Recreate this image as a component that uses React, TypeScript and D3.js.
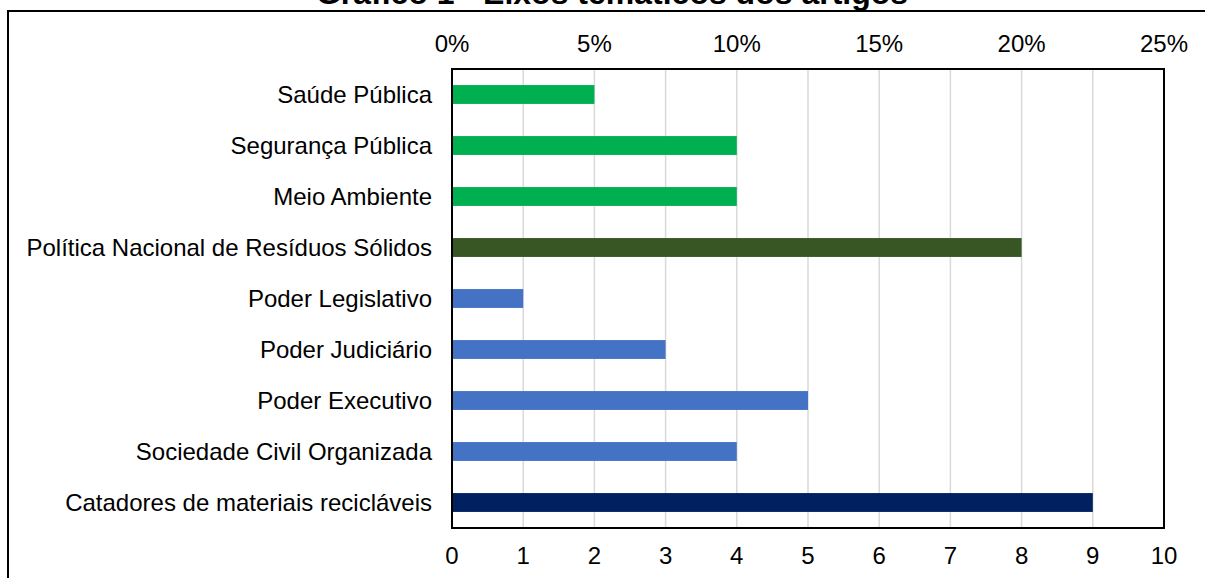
import React from "react";
import * as d3 from "d3";

const categories = [
  "Saúde Pública",
  "Segurança Pública",
  "Meio Ambiente",
  "Política Nacional de Resíduos Sólidos",
  "Poder Legislativo",
  "Poder Judiciário",
  "Poder Executivo",
  "Sociedade Civil Organizada",
  "Catadores de materiais recicláveis",
];
const values = [2, 4, 4, 8, 1, 3, 5, 4, 9];
const barColors = [
  "#00B050", "#00B050", "#00B050",
  "#375623",
  "#4472C4", "#4472C4", "#4472C4", "#4472C4",
  "#002060",
];
const bottomTicks = [0, 1, 2, 3, 4, 5, 6, 7, 8, 9, 10];
const topTicks = [0, 0.05, 0.1, 0.15, 0.2, 0.25];
const title = "Gráfico 1 - Eixos temáticos dos artigos";

const W = 1205;
const H = 578;
const plot = { left: 452, right: 1164, top: 69, bottom: 528 };
const FONT = "'Liberation Sans', Arial, sans-serif";

export default function App() {
  const x = d3.scaleLinear().domain([0, 10]).range([plot.left, plot.right]);
  const xPct = d3.scaleLinear().domain([0, 0.25]).range([plot.left, plot.right]);
  const y = d3
    .scaleBand<string>()
    .domain(categories)
    .range([plot.top, plot.bottom])
    .paddingInner(0.63)
    .paddingOuter(0.315);
  const pctFmt = d3.format(".0%");

  return (
    <svg
      width={W}
      height={H}
      style={{ position: "absolute", left: 0, top: 0, background: "#fff" }}
      fontFamily={FONT}
    >
      <rect x={8} y={11} width={1400} height={800} fill="#fff" stroke="#000" strokeWidth={2} />
      <text x={612} y={4} textAnchor="middle" fontSize={32} fontWeight="bold" fill="#000">
        {title}
      </text>

      {bottomTicks.slice(1, -1).map((t) => (
        <line key={"g" + t} x1={x(t)} x2={x(t)} y1={plot.top} y2={plot.bottom} stroke="#d9d9d9" strokeWidth={1.5} />
      ))}

      {categories.map((c, i) => (
        <rect
          key={c}
          x={x(0)}
          y={y(c)}
          width={x(values[i]) - x(0)}
          height={y.bandwidth()}
          fill={barColors[i]}
        />
      ))}

      <rect
        x={plot.left}
        y={plot.top}
        width={plot.right - plot.left}
        height={plot.bottom - plot.top}
        fill="none"
        stroke="#000"
        strokeWidth={2}
      />

      {categories.map((c) => (
        <text
          key={"l" + c}
          x={432}
          y={(y(c) ?? 0) + y.bandwidth() / 2}
          dy="0.35em"
          textAnchor="end"
          fontSize={24}
          fill="#000"
        >
          {c}
        </text>
      ))}

      {bottomTicks.map((t) => (
        <text key={"b" + t} x={x(t)} y={564} textAnchor="middle" fontSize={24} fill="#000">
          {t}
        </text>
      ))}

      {topTicks.map((t) => (
        <text key={"t" + t} x={xPct(t)} y={52} textAnchor="middle" fontSize={24} fill="#000">
          {pctFmt(t)}
        </text>
      ))}
    </svg>
  );
}
